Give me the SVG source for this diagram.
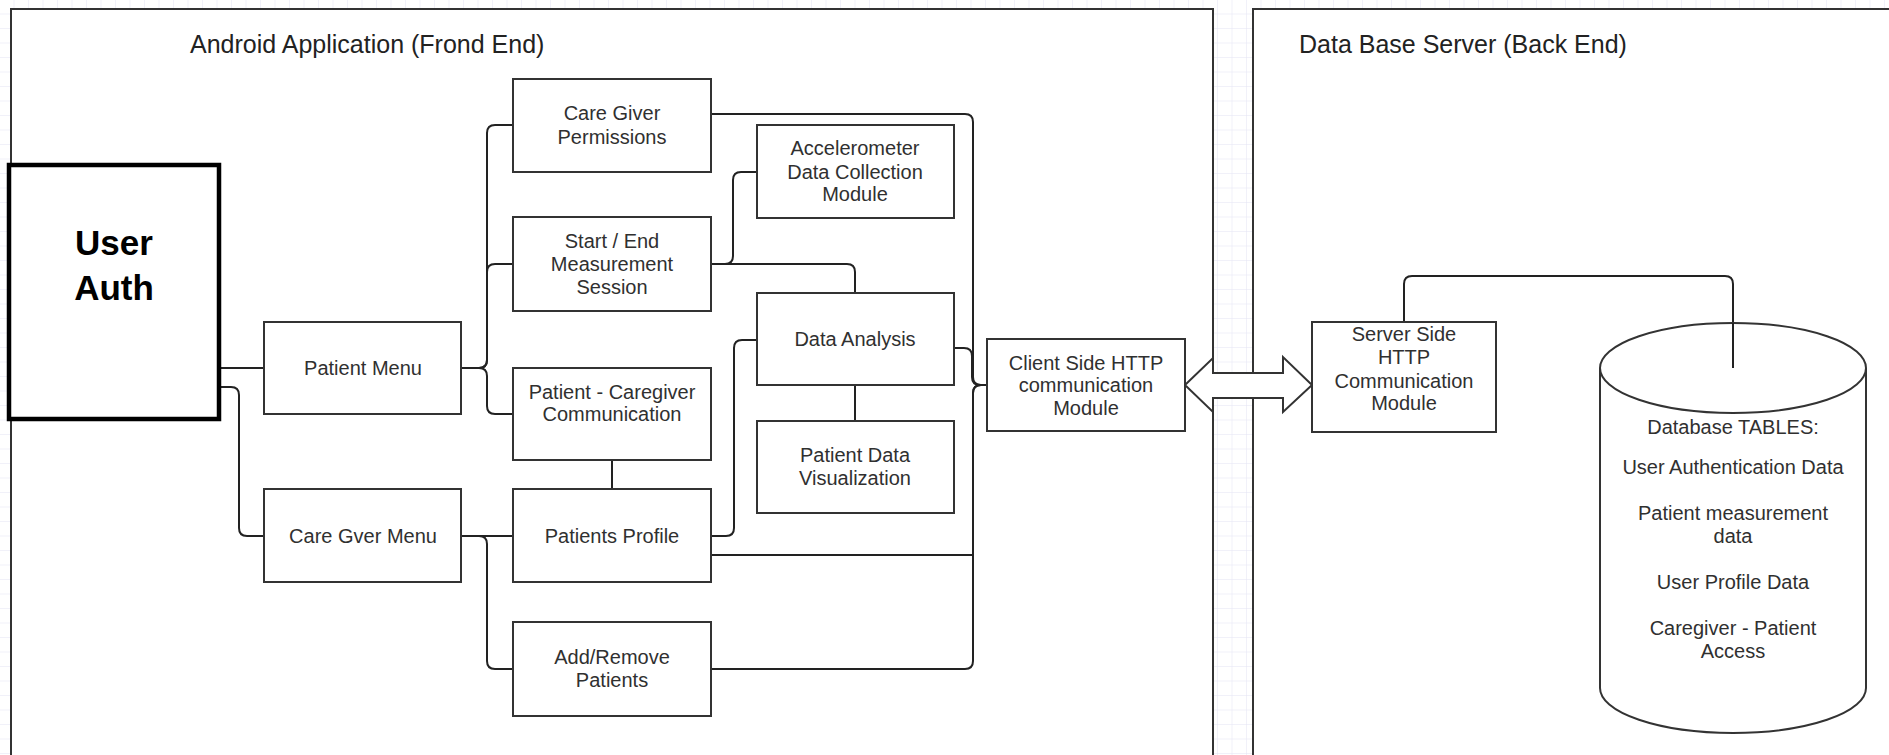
<svg xmlns="http://www.w3.org/2000/svg" width="1889" height="755" viewBox="0 0 1889 755">
<style>
  .frame{fill:#ffffff;stroke:#333333;stroke-width:2}
  .box{fill:#ffffff;stroke:#333333;stroke-width:2}
  .auth{fill:#ffffff;stroke:#000000;stroke-width:4.5}
  .t{font-family:"Liberation Sans",Arial,sans-serif;font-size:20px;fill:#303030;text-anchor:middle}
  .title{font-family:"Liberation Sans",Arial,sans-serif;font-size:25px;fill:#222222}
  .big{font-family:"Liberation Sans",Arial,sans-serif;font-size:35px;font-weight:bold;fill:#000000;text-anchor:middle}
  .c{fill:none;stroke:#222222;stroke-width:2}
</style>
<defs>
  <pattern id="grid" width="14.5" height="14.5" patternUnits="userSpaceOnUse">
    <path d="M14.5,0 V14.5 H0" fill="none" stroke="#e4e4f4" stroke-width="1"/>
  </pattern>
</defs>
<rect x="0" y="0" width="1889" height="755" fill="#ffffff"/>
<rect x="0" y="0" width="1889" height="755" fill="url(#grid)"/>

<g id="frame-frontend">
  <rect class="frame" x="11" y="9" width="1202" height="800"/>
  <text class="title" x="190" y="53">Android Application (Frond End)</text>
</g>
<g id="frame-backend">
  <rect class="frame" x="1253" y="9" width="700" height="800"/>
  <text class="title" x="1299" y="53">Data Base Server (Back End)</text>
</g>

<g id="connectors">
  <path class="c" d="M219,368 H264"/>
  <path class="c" d="M219,387 H231 Q239,387 239,395 V528 Q239,536 247,536 H264"/>
  <path class="c" d="M461,368 H479 Q487,368 487,360 V133 Q487,125 495,125 H513"/>
  <path class="c" d="M461,368 H479 Q487,368 487,360 V272 Q487,264 495,264 H513"/>
  <path class="c" d="M461,368 H479 Q487,368 487,376 V406 Q487,414 495,414 H513"/>
  <path class="c" d="M461,536 H513"/>
  <path class="c" d="M461,536 H479 Q487,536 487,544 V661 Q487,669 495,669 H513"/>
  <path class="c" d="M612,460 V489"/>
  <path class="c" d="M711,114 H965 Q973,114 973,122 V377 Q973,385 981,385 H987"/>
  <path class="c" d="M711,264 H725 Q733,264 733,256 V180 Q733,172 741,172 H757"/>
  <path class="c" d="M711,264 H847 Q855,264 855,272 V293"/>
  <path class="c" d="M954,348 H964 Q972,348 972,356 V377 Q972,385 980,385 H987"/>
  <path class="c" d="M855,385 V421"/>
  <path class="c" d="M711,536 H726 Q734,536 734,528 V348 Q734,340 742,340 H757"/>
  <path class="c" d="M711,555 H973 V393 Q973,385 981,385 H987"/>
  <path class="c" d="M711,669 H965 Q973,669 973,661 V393 Q973,385 981,385 H987"/>
  <path class="c" d="M1404,322 V284 Q1404,276 1412,276 H1725 Q1733,276 1733,284 V368"/>
  <polygon points="1185,385 1213,358 1213,373 1283,373 1283,357 1312,385 1283,412 1283,398 1213,398 1213,412" fill="#ffffff" stroke="#333333" stroke-width="2" stroke-linejoin="miter"/>
</g>

<g id="user-auth">
  <rect class="auth" x="9" y="165" width="210" height="254"/>
  <text class="big" x="114" y="255">User</text>
  <text class="big" x="114" y="300">Auth</text>
</g>
<g id="patient-menu">
  <rect class="box" x="264" y="322" width="197" height="92"/>
  <text class="t" x="363" y="375">Patient Menu</text>
</g>
<g id="care-gver-menu">
  <rect class="box" x="264" y="489" width="197" height="93"/>
  <text class="t" x="363" y="543">Care Gver Menu</text>
</g>
<g id="care-giver-permissions">
  <rect class="box" x="513" y="79" width="198" height="93"/>
  <text class="t" x="612" y="120">Care Giver</text>
  <text class="t" x="612" y="144">Permissions</text>
</g>
<g id="start-end-session">
  <rect class="box" x="513" y="217" width="198" height="94"/>
  <text class="t" x="612" y="248">Start / End</text>
  <text class="t" x="612" y="271">Measurement</text>
  <text class="t" x="612" y="294">Session</text>
</g>
<g id="patient-caregiver-communication">
  <rect class="box" x="513" y="368" width="198" height="92"/>
  <text class="t" x="612" y="399">Patient - Caregiver</text>
  <text class="t" x="612" y="421">Communication</text>
</g>
<g id="patients-profile">
  <rect class="box" x="513" y="489" width="198" height="93"/>
  <text class="t" x="612" y="543">Patients Profile</text>
</g>
<g id="add-remove-patients">
  <rect class="box" x="513" y="622" width="198" height="94"/>
  <text class="t" x="612" y="664">Add/Remove</text>
  <text class="t" x="612" y="687">Patients</text>
</g>
<g id="accelerometer">
  <rect class="box" x="757" y="125" width="197" height="93"/>
  <text class="t" x="855" y="155">Accelerometer</text>
  <text class="t" x="855" y="179">Data Collection</text>
  <text class="t" x="855" y="201">Module</text>
</g>
<g id="data-analysis">
  <rect class="box" x="757" y="293" width="197" height="92"/>
  <text class="t" x="855" y="346">Data Analysis</text>
</g>
<g id="patient-data-visualization">
  <rect class="box" x="757" y="421" width="197" height="92"/>
  <text class="t" x="855" y="462">Patient Data</text>
  <text class="t" x="855" y="485">Visualization</text>
</g>
<g id="client-http">
  <rect class="box" x="987" y="339" width="198" height="92"/>
  <text class="t" x="1086" y="370">Client Side HTTP</text>
  <text class="t" x="1086" y="392">communication</text>
  <text class="t" x="1086" y="415">Module</text>
</g>
<g id="server-http">
  <rect class="box" x="1312" y="322" width="184" height="110"/>
  <text class="t" x="1404" y="341">Server Side</text>
  <text class="t" x="1404" y="364">HTTP</text>
  <text class="t" x="1404" y="388">Communication</text>
  <text class="t" x="1404" y="410">Module</text>
</g>
<g id="database">
  <path d="M1600,368 A133,45 0 0,1 1866,368 V688 A133,45 0 0,1 1600,688 Z" fill="#ffffff" stroke="#333333" stroke-width="2"/>
  <path d="M1600,368 A133,45 0 0,0 1866,368" fill="none" stroke="#333333" stroke-width="2"/>
  <path class="c" d="M1733,323 V368"/>
  <text class="t" x="1733" y="434">Database TABLES:</text>
  <text class="t" x="1733" y="474">User Authentication Data</text>
  <text class="t" x="1733" y="520">Patient measurement</text>
  <text class="t" x="1733" y="543">data</text>
  <text class="t" x="1733" y="589">User Profile Data</text>
  <text class="t" x="1733" y="635">Caregiver - Patient</text>
  <text class="t" x="1733" y="658">Access</text>
</g>
</svg>
